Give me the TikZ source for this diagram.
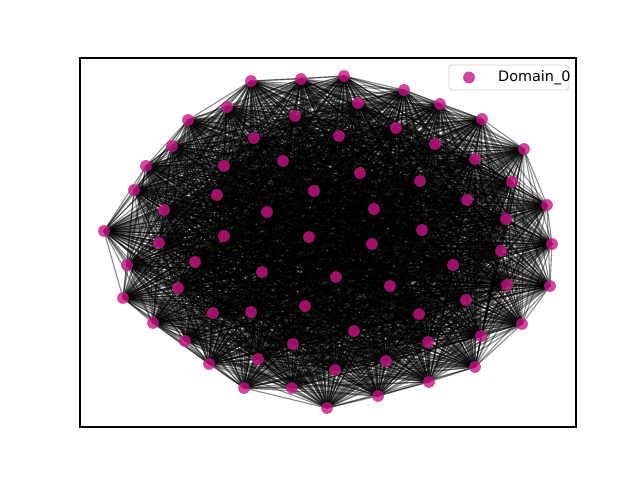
\documentclass[tikz,border=0pt]{standalone}
\usepackage{fontspec}
\setsansfont{DejaVu Sans}
\usepackage{tikz}
\usetikzlibrary{backgrounds}
\definecolor{domcol}{RGB}{199,21,133}

\begin{document}
\begin{tikzpicture}[x=0.02cm, y=-0.02cm,
    vtx/.style={circle, fill=domcol, fill opacity=0.8, inner sep=0pt, minimum size=0.235cm},
    edge/.style={black, opacity=0.45, line width=0.65pt}]
  \useasboundingbox (0,0) rectangle (640,480);

  %% Domain_0 vertices
  \foreach \x/\y [count=\i] in {251/81, 301/79, 227/107, 295/116, 188/120, 254/138,
      172/146, 283/161, 146/166, 224/166, 134/190, 314/191, 217/195, 164/210,
      267/212, 104/231, 224/236, 309/237, 159/243, 344/76, 404/90, 358/103,
      440/104, 482/119, 396/128, 339/136, 524/149, 435/144, 475/159, 360/173,
      512/182, 420/181, 547/205, 467/200, 374/209, 506/219, 422/230, 372/244,
      552/244, 127/265, 195/262, 262/272, 178/288, 123/298, 213/313, 251/312,
      305/306, 153/323, 185/341, 293/344, 209/364, 258/359, 244/388, 292/388,
      327/408, 501/251, 453/265, 336/277, 390/286, 507/285, 550/286, 466/300,
      419/314, 522/324, 354/331, 481/336, 428/342, 386/361, 335/370, 475/367,
      429/382, 378/396}
    \node[vtx] (n\i) at (\x,\y) {};

  %% all pairs
  \begin{pgfonlayer}{background}
    \foreach \i in {1,...,71} {
      \pgfmathtruncatemacro\k{\i+1}
      \foreach \j in {\k,...,72}
        \draw[edge] (n\i.center) -- (n\j.center);
    }
  \end{pgfonlayer}

  %% axes frame
  \draw[line width=0.6pt] (80,58) rectangle (576,427);

  %% legend
  \draw[gray!35, fill=white, rounded corners=2pt, line width=0.5pt] (449,65) rectangle (569,90);
  \node[vtx] (lgd) at (469,77.5) {};
  \node[font=\sffamily\fontsize{8.2}{9}\selectfont, anchor=west] (lgdtxt) at (492,77.5) {Domain\_0};
\end{tikzpicture}
\end{document}
